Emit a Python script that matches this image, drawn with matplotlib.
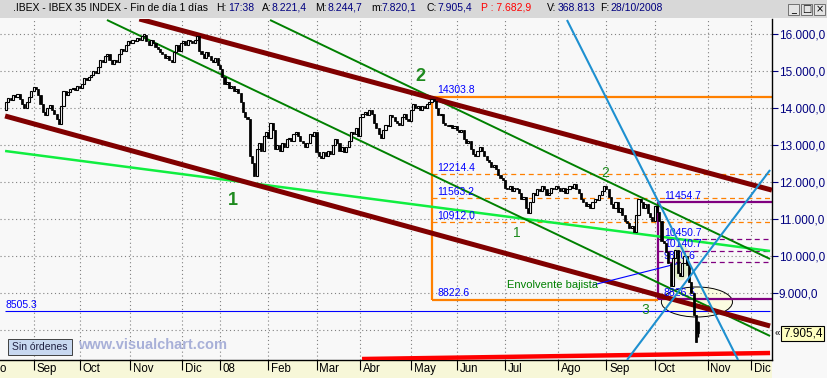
import matplotlib
matplotlib.use("Agg")
import numpy as np
import matplotlib.pyplot as plt
from matplotlib.patches import Ellipse, Rectangle
from matplotlib.transforms import ScaledTranslation

# header values (last session)
hdr_time = "17:38"
open_last = 8221.4
high_last = 8244.7
low_last = 7820.1
close_last = 7905.4
prev_close = 7682.9
volume = "368.813"
date = "28/10/2008"

# daily closes, trading-day index 0 = mid Aug 2007
first_open = 13950
closes = [
    14150, 14280, 14220, 14350, 14300, 14380, 14250, 14120, 14000, 14150,
    14300, 14450, 14580, 14500, 14350, 14100, 13900, 13820, 14000, 14080,
    13950, 13850, 13700, 13580, 14050, 14450, 14350, 14420, 14500, 14550,
    14480, 14600, 14550, 14650, 14800, 14750, 14850, 14900, 15000, 14950,
    15100, 15300, 15250, 15400, 15450, 15300, 15200, 15300, 15250, 15450,
    15600, 15550, 15700, 15800, 15750, 15850, 15800, 15900, 15850, 15950,
    15980, 15800, 15700, 15850, 15750, 15650, 15600, 15500, 15450, 15350,
    15400, 15300, 15250, 15500, 15700, 15550, 15750, 15800, 15700, 15850,
    15800, 15750, 15850, 15950, 15550, 15450, 15350, 15500, 15400, 15300,
    15250, 15350, 15150, 15050, 14850, 14650, 14700, 14550, 14600, 14450,
    14500, 14400, 14150, 13900, 13750, 13700, 12700, 12500, 12150, 12900,
    13050, 12850, 13250, 13350, 13200, 13600, 13400, 12900, 13000, 12850,
    13050, 12950, 13150, 13200, 13100, 13300, 13350, 13250, 13100, 13050,
    12950, 13050, 13300, 13250, 13350, 12800, 12700, 12650, 12800, 12700,
    12850, 12750, 13000, 13150, 13050, 12850, 12950, 12800, 12950, 13100,
    13350, 13300, 13450, 13250, 13750, 13850, 13900, 13800, 13950, 13850,
    13600, 13450, 13300, 13200, 13400, 13550, 13500, 13800, 13750, 13650,
    13600, 13550, 13750, 13850, 13700, 13650, 13950, 14100, 14000, 14050,
    13950, 14050, 14000, 14100, 14150, 14250, 14200, 14000, 13800, 13850,
    13600, 13550, 13500, 13550, 13450, 13500, 13400, 13350, 13400, 13150,
    13050, 13100, 12900, 12750, 12700, 12850, 12950, 12850, 12700, 12600,
    12550, 12400, 12450, 12350, 12200, 12100, 12050, 11850, 11800, 11900,
    11750, 11850, 11800, 11700, 11550, 11600, 11300, 11150, 11450, 11700,
    11650, 11800, 11750, 11900, 11800, 11650, 11700, 11850, 11800, 11900,
    11850, 11750, 11850, 11700, 11800, 11900, 11850, 11950, 11800, 11700,
    11550, 11450, 11350, 11400, 11300, 11450, 11550, 11500, 11650, 11750,
    11900, 11800, 11600, 11400, 11300, 11450, 11200, 11300, 11100, 10950,
    10900, 10750, 10800, 10650, 11100, 11550, 11450, 11300, 11400, 11150,
    11050, 10950, 11350, 11200, 10950, 10400, 10350, 10100, 9800, 9200,
    9950, 10150, 9550, 9450, 9800, 10000, 9750, 9300, 9000, 8400,
    prev_close, close_last,
]

month_pos = [12, 32, 54, 76.5, 93, 114, 135, 154, 176, 196, 217, 240, 261, 282, 305, 324]
month_lbl = ["Sep", "Oct", "Nov", "Dic", "08", "Feb", "Mar", "Abr", "May", "Jun",
             "Jul", "Ago", "Sep", "Oct", "Nov", "Dic"]
price_ticks = [9000, 10000, 11000, 12000, 13000, 14000, 15000, 16000]

# fibonacci levels
orange_levels = [14303.8, 12214.4, 11563.2, 10912.0, 8822.6]
purple_levels = [11454.7, 10450.7, 10140.7, 9830.6, 8826.5]
orange_start, purple_start, fib_end = 185.2, 283.5, 333
support_level = 8505.3

# drawn trend lines (index, price)
maroon_hi = [(58, 16405), (333, 11780)]
maroon_lo = [(-0.4, 13784), (332.2, 8108)]
green_a = [(114.8, 16378), (332.2, 9919)]
green_b = [(43.9, 16378), (332.2, 7838)]
lime = [(-0.4, 12838), (332.2, 10135)]
blue_thin = [(255.2, 9216), (293.0, 9811)]
sky_1 = [(243.9, 16378), (318.3, 7189)]
sky_2 = [(270.0, 7189), (332.2, 12324)]
red_base = [(154.8, 7216), (332.2, 7378)]

W, H = 828, 378
fig = plt.figure(figsize=(W / 100, H / 100), dpi=100)
fig.patch.set_facecolor("#f8f8f8")
plt.rcParams["font.family"] = ["Liberation Sans", "DejaVu Sans"]

def fx(x):
    return x / W

def fy(y):
    return 1 - y / H

ax = fig.add_axes([0, fy(360), fx(772), (360 - 19) / H])
ax.set_zorder(3)
ax.set_facecolor("#f8f8f8")
ax.set_xlim(-2.61, 333.04)
ax.set_ylim(7189, 16405)

# grid
ax.set_xticks(month_pos)
ax.set_yticks(price_ticks)
ax.grid(True, color="#808080", linestyle=(0, (1, 2.5)), lw=0.8)
ax.axhline(8000, color="#808080", linestyle=(0, (1, 2.5)), lw=0.8, zorder=0.5)

# x axis
ax.set_xticklabels(month_lbl, fontsize=8.3, ha="left")
ax.tick_params(axis="x", direction="out", length=7, width=0.8, pad=-5)
for lab in ax.get_xticklabels():
    lab.set_transform(lab.get_transform() + ScaledTranslation(2 / 72, 0, fig.dpi_scale_trans))

# right price axis
ax.yaxis.tick_right()
ax.set_yticklabels([f"{p // 1000}.{p % 1000:03d},0" for p in price_ticks],
                   fontsize=8.5, color="#000080")
ax.tick_params(axis="y", direction="out", length=4, width=0.8, color="#000080", pad=1)
for s in ["top", "left"]:
    ax.spines[s].set_visible(False)
ax.spines["right"].set_linewidth(1)
ax.spines["bottom"].set_linewidth(1)

# highlight shapes
ax.add_patch(Ellipse((300.4, 8757), 30.9, 811, facecolor="#fbfbe0", edgecolor="black", lw=0.7, zorder=1))
ax.add_patch(Ellipse((293.5, 9838), 7.8, 1000, facecolor="#e4f0cc", edgecolor="none", zorder=1))

def seg(pts, **kw):
    ax.plot([pts[0][0], pts[1][0]], [pts[0][1], pts[1][1]], solid_capstyle="butt", **kw)

# fibonacci boxes
ax.hlines(orange_levels[0], orange_start, fib_end, color="#ff8000", lw=1.6, zorder=2)
ax.hlines(orange_levels[-1], orange_start, purple_start, color="#ff8000", lw=1.6, zorder=2)
ax.vlines(orange_start, orange_levels[-1], orange_levels[0], color="#ff8000", lw=1.6, zorder=2)
ax.hlines(orange_levels[1:4], orange_start, fib_end, color="#ff8000", lw=0.9,
          linestyles=(0, (4, 3)), zorder=2)
ax.hlines([purple_levels[0], purple_levels[-1]], purple_start, fib_end, color="#800080", lw=1.6, zorder=2)
ax.vlines(purple_start, purple_levels[-1], purple_levels[0], color="#800080", lw=1.6, zorder=2)
ax.hlines(purple_levels[1:4], purple_start, fib_end, color="#800080", lw=0.9,
          linestyles=(0, (4, 3)), zorder=2)
ax.hlines(support_level, -0.4, 332.2, color="#0000ff", lw=0.8, zorder=2)

# trend lines
seg(lime, color="#10ee40", lw=1.8, zorder=3)
seg(green_a, color="#008000", lw=1.4, zorder=3)
seg(green_b, color="#008000", lw=1.4, zorder=3)
seg(maroon_hi, color="#800000", lw=3.6, zorder=3)
seg(maroon_lo, color="#800000", lw=3.6, zorder=3)
seg(blue_thin, color="#0000ff", lw=0.8, zorder=3)
seg(red_base, color="#ff0000", lw=3.2, zorder=3)

# candles
n = len(closes)
idx = np.arange(n)
c = np.array(closes, dtype=float)
o = np.array([first_open] + closes[:-1], dtype=float)
o[-1] = open_last
hi = np.maximum(o, c)
lo = np.minimum(o, c)
hi[-1] = high_last
lo[-1] = low_last
ax.vlines(idx, lo, hi, color="black", lw=1.0, zorder=6)
up = c >= o
body = np.maximum(np.abs(c - o), 40)
ax.bar(idx[up], body[up], bottom=o[up], width=0.9, facecolor="white", edgecolor="black", lw=0.8, zorder=7)
ax.bar(idx[~up], body[~up], bottom=c[~up], width=0.9, color="black", edgecolor="black", lw=0.5, zorder=7)

seg(sky_1, color="#1e90d0", lw=1.5, zorder=8)
seg(sky_2, color="#1e90d0", lw=1.5, zorder=8)

# level labels
for lv in orange_levels:
    ax.annotate(f"{lv:.1f}", (187.4, lv), xytext=(0, 1), textcoords="offset points",
                fontsize=7.5, color="#0000ff", va="bottom", zorder=9)
for lv in purple_levels:
    ax.annotate(f"{lv:.1f}", (286.0, lv), xytext=(0, 1), textcoords="offset points",
                fontsize=7.5, color="#0000ff", va="bottom", zorder=5)
ax.annotate(f"{support_level:.1f}", (-0.4, support_level), xytext=(0, 1), textcoords="offset points",
            fontsize=7.5, color="#0000ff", va="bottom")

# wave labels
ax.text(98.7, 11500, "1", fontsize=13, fontweight="bold", color="#1e8a1e", ha="center", va="center")
ax.text(180, 14838, "2", fontsize=13, fontweight="bold", color="#1e8a1e", ha="center", va="center")
ax.text(222, 10622, "1", fontsize=10, color="#1e8a1e", ha="center", va="center")
ax.text(260.4, 12243, "2", fontsize=10, color="#1e8a1e", ha="center", va="center", zorder=5)
ax.text(277.8, 8540, "3", fontsize=10, color="#1e8a1e", ha="center", va="center")
ax.text(217.8, 9216, "Envolvente bajista", fontsize=8, color="#008000", ha="left", va="center")

# current price box
ax.annotate(f"{int(close_last) // 1000}.{int(close_last) % 1000:03d},{int(round(close_last * 10)) % 10}",
            (1.0, close_last), xycoords=("axes fraction", "data"), xytext=(8, 0),
            textcoords="offset points", fontsize=8.5, va="center", ha="left",
            bbox=dict(boxstyle="square,pad=0.15", fc="#ffffc0", ec="black", lw=0.8),
            annotation_clip=False)
ax.annotate("«", (1.0, close_last), xycoords=("axes fraction", "data"), xytext=(2, 0),
            textcoords="offset points", fontsize=7, va="center", ha="left", annotation_clip=False)

# bottom band
fig.patches.append(Rectangle((0, 0), fx(772), 18 / H, transform=fig.transFigure,
                             facecolor="#f7f7d8", edgecolor="none", zorder=0))
fig.text(fx(0), fy(369), "o", fontsize=8.3, va="center", ha="left")

# header bar
fig.patches.append(Rectangle((0, fy(18)), 1, 18 / H, transform=fig.transFigure,
                             facecolor="#d8d8d8", edgecolor="none", zorder=0))
hdr = [
    (13, ".IBEX - IBEX 35 INDEX - Fin de día 1 días", "black"),
    (216, "H:", "black"), (228, hdr_time, "#000080"),
    (262, "A:", "black"), (272, "8.221,4", "#000080"),
    (315, "M:", "black"), (328, "8.244,7", "#000080"),
    (371, "m:", "black"), (381, "7.820,1", "#000080"),
    (427, "C:", "black"), (437, "7.905,4", "#000080"),
    (481, "P : 7.682,9", "#ff0000"),
    (547, "V:", "black"), (558, volume, "#000080"),
    (600, "F:", "black"), (610, date, "#000080"),
]
for x, t, col in hdr:
    fig.text(fx(x), fy(8), t, fontsize=7.5, color=col, va="center", ha="left")
for x0, g in [(788, "_"), (801, "□"), (814, "×")]:
    fig.patches.append(Rectangle((fx(x0), fy(15)), fx(11), 11 / H, transform=fig.transFigure,
                                 facecolor="#e4e4e4", edgecolor="#606060", lw=0.6))
    fig.text(fx(x0 + 5.5), fy(9), g, fontsize=7, ha="center", va="center", family="DejaVu Sans")

# bottom-left widgets
fig.patches.append(Rectangle((fx(8), fy(355)), fx(64), 16 / H, transform=fig.transFigure,
                             facecolor="#c8d8f0", edgecolor="#404040", lw=0.7, zorder=5))
fig.text(fx(40), fy(347), "Sin órdenes", fontsize=7.5, ha="center", va="center", color="#202040", zorder=6)
fig.text(fx(78), fy(345), "www.visualchart.com", fontsize=10.5, fontweight="bold",
         color="#a8b0d8", ha="left", va="center", zorder=6)

fig.savefig("out.png", dpi=100)
